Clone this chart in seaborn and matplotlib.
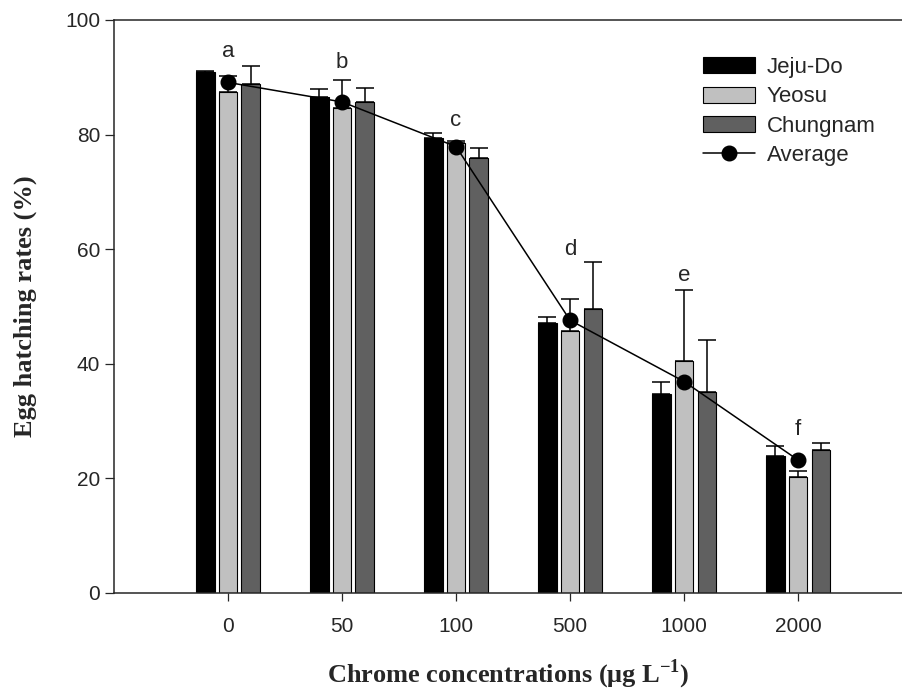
import numpy as np
import pandas as pd
import matplotlib
matplotlib.use("Agg")
import matplotlib.pyplot as plt
from matplotlib.patches import Patch
from matplotlib.lines import Line2D
import seaborn as sns

# Data
conc_labels = ["0", "50", "100", "500", "1000", "2000"]
sites = ["Jeju-Do", "Yeosu", "Chungnam"]

jeju = [90.9, 86.5, 79.4, 47.2, 34.7, 23.9]
yeosu = [87.4, 84.6, 78.5, 45.8, 40.4, 20.3]
chungnam = [88.8, 85.7, 75.9, 49.5, 35.1, 25.0]

jeju_err = [0.2, 1.5, 0.9, 1.0, 2.1, 1.8]
yeosu_err = [2.8, 5.0, 0.4, 5.5, 12.4, 1.0]
chungnam_err = [3.2, 2.4, 1.8, 8.3, 9.1, 1.2]

average = [89.1, 85.7, 77.9, 47.6, 36.9, 23.2]

letters = ["a", "b", "c", "d", "e", "f"]
letter_y = [93.5, 91.6, 81.5, 59.0, 54.5, 27.6]

colors = ["#000000", "#c0c0c0", "#606060"]

df = pd.DataFrame({
    "conc": conc_labels * 3,
    "site": np.repeat(sites, len(conc_labels)),
    "rate": jeju + yeosu + chungnam,
})
errors = [jeju_err, yeosu_err, chungnam_err]

sns.set_style("ticks")
plt.rcParams["font.family"] = ["Liberation Sans", "DejaVu Sans"]
plt.rcParams["mathtext.fontset"] = "custom"
plt.rcParams["mathtext.rm"] = "Liberation Serif"
plt.rcParams["mathtext.bf"] = "Liberation Serif:bold"

fig = plt.figure(figsize=(9.03, 6.96), dpi=100)
ax = fig.add_axes([0.1262, 0.148, 0.8738, 0.8233])

sns.barplot(
    data=df,
    x="conc",
    y="rate",
    hue="site",
    order=conc_labels,
    hue_order=sites,
    palette=colors,
    width=0.6,
    gap=0.18,
    edgecolor="black",
    linewidth=0.8,
    errorbar=None,
    legend=False,
    ax=ax,
)

# upper-only error bars on each bar
for container, err in zip(ax.containers, errors):
    xs = [b.get_x() + b.get_width() / 2 for b in container]
    ys = [b.get_height() for b in container]
    ax.errorbar(
        xs, ys,
        yerr=[np.zeros(len(err)), err],
        fmt="none",
        ecolor="black",
        elinewidth=1.1,
        capsize=6.4,
        capthick=1.1,
        zorder=1.5,
    )

# average line
ax.plot(
    range(len(conc_labels)), average,
    color="black", linewidth=1.1,
    marker="o", markersize=10.5,
    zorder=5,
)

for i, (lt, ly) in enumerate(zip(letters, letter_y)):
    ax.text(i, ly, lt, ha="center", va="baseline", fontsize=16)

ax.set_xlim(-1, 5.92)
ax.set_ylim(0, 100)
ax.set_yticks([0, 20, 40, 60, 80, 100])

sns.despine(ax=ax, top=False, right=True)
for side in ["left", "bottom", "top"]:
    ax.spines[side].set_linewidth(1.1)

ax.tick_params(axis="x", length=6, width=0.9, pad=11, labelsize=15)
ax.tick_params(axis="y", length=6.5, width=0.9, pad=3.5, labelsize=15)

ax.set_xlabel(
    "Chrome concentrations (μg L$^{\\mathbf{-1}}$)",
    fontsize=19, fontweight="bold", family="Liberation Serif", labelpad=16,
)
ax.set_ylabel(
    "Egg hatching rates (%)",
    fontsize=19, fontweight="bold", family="Liberation Serif", labelpad=20,
)

handles = [Patch(facecolor=c, edgecolor="black", linewidth=0.8) for c in colors]
handles.append(Line2D([], [], color="black", linewidth=1.1, marker="o", markersize=10.5))
ax.legend(
    handles, sites + ["Average"],
    loc="upper left",
    bbox_to_anchor=(703 / 903, 1 - 57 / 696),
    bbox_transform=fig.transFigure,
    frameon=False,
    fontsize=16,
    handlelength=2.34,
    handleheight=0.72,
    handletextpad=0.54,
    labelspacing=0.38,
    borderpad=0,
    borderaxespad=0,
)

plt.savefig("out.png", dpi=100)
plt.close()
